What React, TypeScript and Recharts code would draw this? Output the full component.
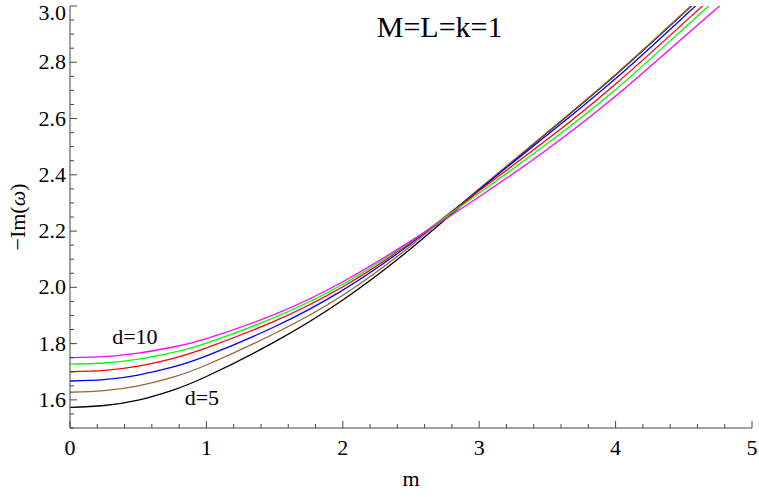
import React from 'react';
import { LineChart, Line, XAxis, YAxis, ReferenceDot } from 'recharts';

const mValues = [0, 0.25, 0.5, 0.75, 1, 1.5, 2, 2.5, 3, 3.5, 4, 4.5, 5];
const d5 = [1.573, 1.58, 1.599, 1.634, 1.683, 1.806, 1.955, 2.138, 2.345, 2.55, 2.755, 2.975, 3.2];
const d6 = [1.627, 1.633, 1.65, 1.68, 1.724, 1.836, 1.972, 2.148, 2.35, 2.552, 2.757, 2.977, 3.2];
const d7 = [1.667, 1.672, 1.688, 1.716, 1.756, 1.86, 1.99, 2.156, 2.348, 2.542, 2.742, 2.962, 3.185];
const d8 = [1.7, 1.705, 1.72, 1.747, 1.785, 1.88, 2.002, 2.16, 2.343, 2.526, 2.723, 2.94, 3.16];
const d9 = [1.727, 1.731, 1.745, 1.768, 1.802, 1.893, 2.011, 2.163, 2.335, 2.511, 2.703, 2.92, 3.14];
const d10 = [1.75, 1.754, 1.766, 1.787, 1.818, 1.904, 2.02, 2.165, 2.322, 2.491, 2.68, 2.89, 3.1];

const xMajor = [0, 1, 2, 3, 4, 5];
const yMajor = [1.6, 1.8, 2.0, 2.2, 2.4, 2.6, 2.8, 3.0];

const series = [
  { key: 'd5', color: '#000000' },
  { key: 'd6', color: '#996633' },
  { key: 'd7', color: '#0000ff' },
  { key: 'd8', color: '#ff0000' },
  { key: 'd9', color: '#00ff00' },
  { key: 'd10', color: '#ff00ff' },
];

const data = mValues.map((m, i) => ({
  m,
  d5: d5[i],
  d6: d6[i],
  d7: d7[i],
  d8: d8[i],
  d9: d9[i],
  d10: d10[i],
}));

// minor ticks every 0.2 on x, every 0.05 on y
const xTicks = Array.from({ length: 26 }, (_, i) => Math.round(i * 20) / 100);
const yTicks = Array.from({ length: 31 }, (_, i) => Math.round(150 + i * 5) / 100);

const FONT = "'Liberation Serif', 'Times New Roman', serif";
const AXIS = '#444';

const isMajor = (v: number, list: number[]) => list.some((t) => Math.abs(t - v) < 1e-6);

const XTick = (props: any) => {
  const { x, y, payload, top } = props;
  const major = isMajor(payload.value, xMajor);
  const len = major ? 7 : 4;
  return (
    <g>
      <line x1={x} x2={x} y1={y} y2={top ? y + len : y - len} stroke={AXIS} />
      {!top && major && (
        <text x={x} y={y + 27} textAnchor="middle" fontFamily={FONT} fontSize={22} fill="#000">
          {Math.round(payload.value)}
        </text>
      )}
    </g>
  );
};

const YTick = (props: any) => {
  const { x, y, payload, right } = props;
  const major = isMajor(payload.value, yMajor);
  const len = major ? 7 : 4;
  // keep the top label inside the picture
  const ty = Math.max(y + 7, 20);
  return (
    <g>
      <line x1={x} x2={right ? x - len : x + len} y1={y} y2={y} stroke={AXIS} />
      {!right && major && (
        <text x={x - 4} y={ty} textAnchor="end" fontFamily={FONT} fontSize={22} fill="#000">
          {payload.value.toFixed(1)}
        </text>
      )}
    </g>
  );
};

const textShape = (label: string, size: number) => (p: any) => (
  <text x={p.cx} y={p.cy} textAnchor="middle" fontFamily={FONT} fontSize={size} fill="#000">
    {label}
  </text>
);

export default function App() {
  return (
    <div style={{ position: 'absolute', left: 0, top: 0, width: 759, height: 497, background: '#fff' }}>
      <LineChart width={759} height={497} data={data} margin={{ top: 6, right: 7, bottom: 0, left: 0 }}>
        <XAxis
          dataKey="m"
          type="number"
          domain={[0, 5]}
          ticks={xTicks}
          interval={0}
          tickSize={0}
          tickMargin={0}
          tick={<XTick />}
          height={69}
          axisLine={{ stroke: AXIS }}
          label={{
            content: () => (
              <text x={411} y={486} textAnchor="middle" fontFamily={FONT} fontSize={22} fill="#000">
                m
              </text>
            ),
          }}
        />
        <XAxis
          xAxisId="top"
          orientation="top"
          type="number"
          domain={[0, 5]}
          ticks={xTicks}
          interval={0}
          tickSize={0}
          tickMargin={0}
          tick={<XTick top />}
          height={0}
          axisLine={{ stroke: AXIS }}
        />
        <YAxis
          type="number"
          domain={[1.5, 3]}
          allowDataOverflow
          ticks={yTicks}
          interval={0}
          tickSize={0}
          tickMargin={0}
          tick={<YTick />}
          width={70}
          axisLine={{ stroke: AXIS }}
          label={{
            content: () => (
              <text
                transform="translate(25,217) rotate(-90)"
                textAnchor="middle"
                fontFamily={FONT}
                fontSize={22}
                fill="#000"
              >
                {'\u2212Im('}
                <tspan fontStyle="italic">ω</tspan>
                {')'}
              </text>
            ),
          }}
        />
        <YAxis
          yAxisId="right"
          orientation="right"
          type="number"
          domain={[1.5, 3]}
          ticks={yTicks}
          interval={0}
          tickSize={0}
          tickMargin={0}
          tick={<YTick right />}
          width={0}
          axisLine={{ stroke: AXIS }}
        />
        {series.map((s) => (
          <Line
            key={s.key}
            type="natural"
            dataKey={s.key}
            stroke={s.color}
            strokeWidth={1.3}
            dot={false}
            isAnimationActive={false}
          />
        ))}
        <ReferenceDot x={0.476} y={1.8} r={0} ifOverflow="visible" shape={textShape('d=10', 22)} />
        <ReferenceDot x={0.967} y={1.582} r={0} ifOverflow="visible" shape={textShape('d=5', 22)} />
        <ReferenceDot x={2.71} y={2.89} r={0} ifOverflow="visible" shape={textShape('M=L=k=1', 30)} />
      </LineChart>
    </div>
  );
}
